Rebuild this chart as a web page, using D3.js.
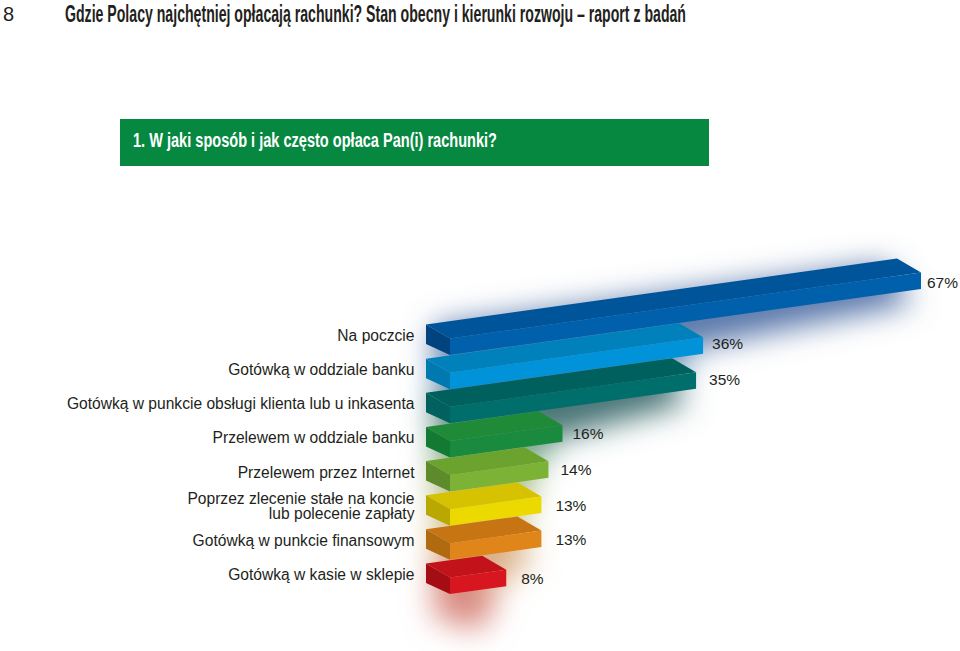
<!DOCTYPE html>
<html>
<head>
<meta charset="utf-8">
<style>
  html, body { margin: 0; background: #fff; }
  svg { display: block; }
  text { font-family: "Liberation Sans", sans-serif; fill: #231f20; }
</style>
</head>
<body>
<div id="chart"></div>
<script src="https://cdn.jsdelivr.net/npm/d3@7"></script>
<script>
const categories = [
  ['Na poczcie'],
  ['Gotówką w oddziale banku'],
  ['Gotówką w punkcie obsługi klienta lub u inkasenta'],
  ['Przelewem w oddziale banku'],
  ['Przelewem przez Internet'],
  ['Poprzez zlecenie stałe na koncie', 'lub polecenie zapłaty'],
  ['Gotówką w punkcie finansowym'],
  ['Gotówką w kasie w sklepie']
];
const values = [67, 36, 35, 16, 14, 13, 13, 8];
const frontColors = ['#0060ac', '#0093d9', '#006f6c', '#1a8a3f', '#7cb236', '#ecd900', '#e08519', '#d8161f'];
const topColors = ['#00559a', '#0081bb', '#00605e', '#1f8a38', '#6ca32f', '#d6c200', '#c67512', '#c2131b'];
const sideColors = ['#00437f', '#0078b0', '#00615f', '#127a33', '#5d8a2a', '#b8a800', '#b06a10', '#a50d14'];
const glowColors = ['#5a78aa', '#6f9dbd', '#4a7476', '#74a888', '#a8ba84', '#cfc88c', '#dcb088', '#d98a80'];
const labelGaps = [6, 9, 13, 10, 12, 14, 14, 15];
const labelLifts = [-1, 2, 2, 0, 1, 0, 0, 0];

const width = 960, height = 651;
const slope = 0.14, barH = 16.5, depthX = 24, depthY = 14;

const svg = d3.select('#chart').append('svg')
  .attr('width', width)
  .attr('height', height);

const defs = svg.append('defs');
defs.append('filter')
  .attr('id', 'glow')
  .attr('filterUnits', 'userSpaceOnUse')
  .attr('x', 330).attr('y', 180)
  .attr('width', 630).attr('height', 471)
  .append('feGaussianBlur')
  .attr('stdDeviation', 15);

// Scales: x0 is the front left corner of every bar
const xScale = d3.scaleLinear().domain([0, 100]).range([450, 1153]);
const yScale = d3.scalePoint()
  .domain(d3.range(values.length))
  .range([355, 594]);

const poly = d3.line();

// Header
svg.append('text')
  .attr('x', 3).attr('y', 21)
  .style('font-size', '20px')
  .style('font-weight', '300')
  .text('8');

svg.append('text')
  .attr('x', 65).attr('y', 22)
  .attr('textLength', 621)
  .attr('lengthAdjust', 'spacingAndGlyphs')
  .style('font-family', '"Liberation Sans Narrow", "Liberation Sans", sans-serif')
  .style('font-weight', 'bold')
  .style('font-size', '24px')
  .text('Gdzie Polacy najchętniej opłacają rachunki? Stan obecny i kierunki rozwoju – raport z badań');

svg.append('rect')
  .attr('x', 120).attr('y', 119)
  .attr('width', 589).attr('height', 47)
  .attr('fill', '#068840');

svg.append('text')
  .attr('x', 133).attr('y', 147)
  .attr('textLength', 364)
  .attr('lengthAdjust', 'spacingAndGlyphs')
  .style('font-family', '"Liberation Sans Narrow", "Liberation Sans", sans-serif')
  .style('font-weight', 'bold')
  .style('font-size', '20px')
  .style('fill', '#fff')
  .text('1. W jaki sposób i jak często opłaca Pan(i) rachunki?');

// Corners of a bar, from the scales
const corners = (d, i) => {
  const x0 = xScale(0), x1 = xScale(d), y0 = yScale(i);
  const y1 = y0 - (x1 - x0) * slope;
  return { x0, x1, y0, y1 };
};

// Soft coloured shadows behind the bars
svg.append('g')
  .attr('filter', 'url(#glow)')
  .selectAll('path')
  .data(values)
  .join('path')
  .attr('fill', (d, i) => glowColors[i])
  .attr('d', (d, i) => {
    const c = corners(d, i);
    return poly([
      [c.x0 - depthX + 8, c.y0 - barH - depthY + 2],
      [c.x1 - depthX - 12, c.y1 - barH - depthY + 6],
      [c.x1 - 8, c.y1 + 14],
      [c.x0 + 30, c.y0 + 36],
      [c.x0 - depthX + 8, c.y0 + 24]
    ]) + 'Z';
  });

// Bars
const bars = svg.append('g')
  .selectAll('g')
  .data(values)
  .join('g');

bars.append('path')
  .attr('fill', (d, i) => topColors[i])
  .attr('d', (d, i) => {
    const c = corners(d, i);
    return poly([
      [c.x0, c.y0 - barH],
      [c.x1, c.y1 - barH],
      [c.x1 - depthX, c.y1 - barH - depthY],
      [c.x0 - depthX, c.y0 - barH - depthY]
    ]) + 'Z';
  });

bars.append('path')
  .attr('fill', (d, i) => sideColors[i])
  .attr('d', (d, i) => {
    const c = corners(d, i);
    return poly([
      [c.x0, c.y0],
      [c.x0, c.y0 - barH],
      [c.x0 - depthX, c.y0 - barH - depthY],
      [c.x0 - depthX, c.y0 - depthY + 3]
    ]) + 'Z';
  });

bars.append('path')
  .attr('fill', (d, i) => frontColors[i])
  .attr('d', (d, i) => {
    const c = corners(d, i);
    return poly([
      [c.x0, c.y0],
      [c.x1, c.y1],
      [c.x1, c.y1 - barH],
      [c.x0, c.y0 - barH]
    ]) + 'Z';
  });

// Value labels
bars.append('text')
  .attr('x', (d, i) => xScale(d) + labelGaps[i])
  .attr('y', (d, i) => corners(d, i).y1 - barH / 2 + 6 - labelLifts[i])
  .style('font-size', '15.5px')
  .text(d => d + '%');

// Category labels
const catLabels = svg.append('g')
  .selectAll('text')
  .data(categories)
  .join('text')
  .attr('text-anchor', 'end')
  .attr('y', (d, i) => yScale(i) - 14 + (d.length > 1 ? -8 : 0))
  .style('font-size', '15.6px');

catLabels.selectAll('tspan')
  .data(d => d)
  .join('tspan')
  .attr('x', 414.5)
  .attr('dy', (d, i) => i ? 15 : 0)
  .text(d => d);
</script>
</body>
</html>
